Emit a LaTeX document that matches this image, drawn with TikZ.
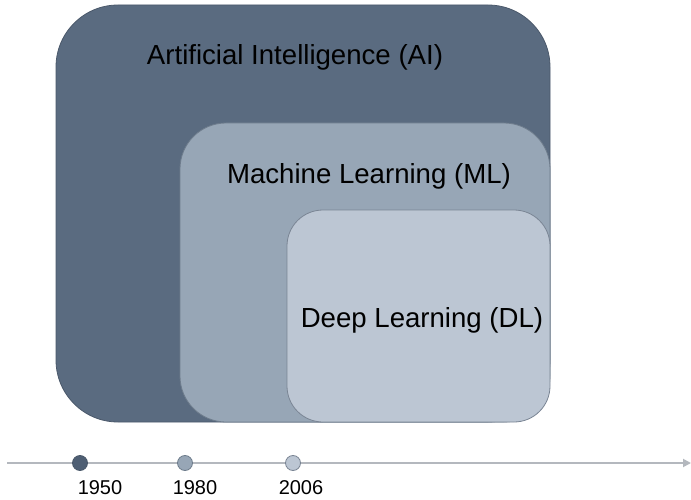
\documentclass[tikz,border=0pt]{standalone}
\usepackage{fontspec}
\setmainfont{Liberation Sans}
\usetikzlibrary{arrows.meta}
\definecolor{aifill}{HTML}{5A6B80}
\definecolor{aidraw}{HTML}{4A586A}
\definecolor{mlfill}{HTML}{97A6B6}
\definecolor{mldraw}{HTML}{6E7C8C}
\definecolor{dlfill}{HTML}{BCC6D3}
\definecolor{dldraw}{HTML}{7A8594}
\definecolor{tline}{HTML}{B4B8BE}
\definecolor{dot1}{HTML}{4E5E73}
\tikzset{
  setbox/.style={draw, line width=0.8pt, rectangle, inner sep=0pt},
  settext/.style={font=\fontsize{27.6}{30}\selectfont, text=black},
  yeardot/.style={circle, draw=dldraw, line width=0.8pt, minimum size=15pt, inner sep=0pt},
  yeartext/.style={font=\fontsize{20}{22}\selectfont, text=black}
}
\begin{document}
\begin{tikzpicture}[x=1pt,y=-1pt]
\useasboundingbox[fill=white] (0,0) rectangle (691,500);
\node[setbox, fill=aifill, draw=aidraw, rounded corners=62pt, minimum width=494pt, minimum height=417pt] (ai) at (303,213.5) {};
\node[setbox, fill=mlfill, draw=mldraw, rounded corners=46pt, minimum width=370pt, minimum height=299pt] (ml) at (365,272.5) {};
\node[setbox, fill=dlfill, draw=dldraw, rounded corners=36pt, minimum width=263pt, minimum height=212pt] (dl) at (418.5,316) {};
\node[settext] (aitext) at (295,57) {Artificial Intelligence (AI)};
\node[settext] (mltext) at (369,176) {Machine Learning (ML)};
\node[settext] (dltext) at (422,320) {Deep Learning (DL)};
\coordinate (t0) at (7,463);
\coordinate (t1) at (691,463);
\draw[tline, line width=1.8pt, -{Triangle[length=8pt,width=8pt]}] (t0) -- (t1);
\node[yeardot, fill=dot1, draw=aidraw] (d1) at (80,463) {};
\node[yeardot, fill=mlfill, draw=mldraw] (d2) at (185,463) {};
\node[yeardot, fill=dlfill, draw=dldraw] (d3) at (293,463) {};
\node[yeartext] (y1) at (100,488) {1950};
\node[yeartext] (y2) at (195,488) {1980};
\node[yeartext] (y3) at (301,488) {2006};
\end{tikzpicture}
\end{document}
